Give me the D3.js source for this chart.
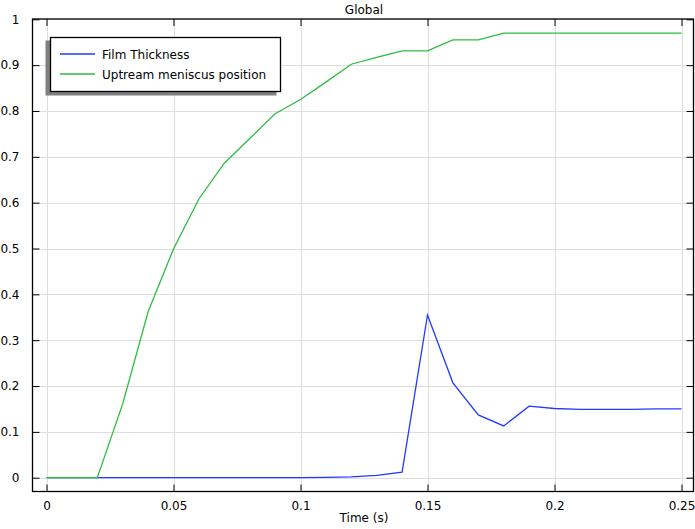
<!DOCTYPE html>
<html>
<head>
<meta charset="utf-8">
<script src="https://cdn.jsdelivr.net/npm/d3@7"></script>
<style>
	body { margin: 0; background: #fff; }
	text { font-family: "DejaVu Sans", sans-serif; font-size: 12px; fill: #000; }
</style>
</head>
<body>
<div id="chart"></div>
<script>
// time steps (s)
const times = [0, 0.01, 0.02, 0.03, 0.04, 0.05, 0.06, 0.07, 0.08, 0.09, 0.1, 0.11, 0.12,
	0.13, 0.14, 0.15, 0.16, 0.17, 0.18, 0.19, 0.2, 0.21, 0.22, 0.23, 0.24, 0.25];
const filmThickness = [0, 0, 0, 0, 0, 0, 0, 0, 0, 0, 0, 0.0005, 0.002,
	0.005, 0.012, 0.355, 0.207, 0.137, 0.113, 0.156, 0.151, 0.149, 0.149, 0.149, 0.150, 0.150];
const meniscusPos = [0, 0, 0, 0.161, 0.362, 0.499, 0.608, 0.686, 0.740, 0.794, 0.825, 0.863, 0.902,
	0.917, 0.931, 0.931, 0.955, 0.955, 0.970, 0.970, 0.970, 0.970, 0.970, 0.970, 0.970, 0.970];
const xTicks = [0, 0.05, 0.1, 0.15, 0.2, 0.25];
const yTicks = [0, 0.1, 0.2, 0.3, 0.4, 0.5, 0.6, 0.7, 0.8, 0.9, 1];
const seriesNames = ["Film Thickness", "Uptream meniscus position"];
const seriesColors = ["#1f3cff", "#2dbd3f"];

const width = 695, height = 529;
const plot = { left: 32.5, top: 19, right: 693.5, bottom: 491.5 };

const x = d3.scaleLinear().domain([0, 0.25]).range([46.5, 681.5]);
const y = d3.scaleLinear().domain([0, 1]).range([477.7, 19.3]);

const svg = d3.select("#chart").append("svg")
	.attr("width", width)
	.attr("height", height);

// grid
svg.append("g").selectAll("line").data(xTicks).join("line")
	.attr("x1", d => Math.round(x(d)) + 0.5).attr("x2", d => Math.round(x(d)) + 0.5)
	.attr("y1", plot.top).attr("y2", plot.bottom)
	.attr("stroke", "#dedede");
svg.append("g").selectAll("line").data(yTicks).join("line")
	.attr("x1", plot.left).attr("x2", plot.right)
	.attr("y1", d => Math.round(y(d)) + 0.5).attr("y2", d => Math.round(y(d)) + 0.5)
	.attr("stroke", "#dedede");

// lines
const series = [filmThickness, meniscusPos];
const line = d3.line().x((d, i) => x(times[i])).y(d => y(d));
svg.append("g").selectAll("path").data(series).join("path")
	.attr("d", d => line(d))
	.attr("fill", "none")
	.attr("stroke", (d, i) => seriesColors[i])
	.attr("stroke-width", 1.3);

// axes (ticks inward on all sides)
const fmt = d => d3.format("")(+d.toFixed(2));
svg.append("g").attr("transform", `translate(0,${plot.bottom})`)
	.call(d3.axisBottom(x).tickValues(xTicks).tickSizeInner(-7).tickSizeOuter(0).tickPadding(10).tickFormat(fmt))
	.call(g => g.select(".domain").remove());
svg.append("g").attr("transform", `translate(0,${plot.top})`)
	.call(d3.axisTop(x).tickValues(xTicks).tickSizeInner(-7).tickSizeOuter(0).tickFormat(""))
	.call(g => g.select(".domain").remove());
svg.append("g").attr("transform", `translate(${plot.left},0)`)
	.call(d3.axisLeft(y).tickValues(yTicks).tickSizeInner(-7).tickSizeOuter(0).tickPadding(13).tickFormat(fmt))
	.call(g => g.select(".domain").remove());
svg.append("g").attr("transform", `translate(${plot.right},0)`)
	.call(d3.axisRight(y).tickValues(yTicks).tickSizeInner(-7).tickSizeOuter(0).tickFormat(""))
	.call(g => g.select(".domain").remove());
svg.selectAll(".tick line").attr("stroke", "#000");
svg.selectAll(".tick text").style("font-family", "DejaVu Sans").style("font-size", "12px");

// frame
svg.append("rect")
	.attr("x", plot.left).attr("y", plot.top)
	.attr("width", plot.right - plot.left).attr("height", plot.bottom - plot.top)
	.attr("fill", "none").attr("stroke", "#000").attr("stroke-width", 1.3);

// titles
svg.append("text").attr("x", 364).attr("y", 13.5).attr("text-anchor", "middle").text("Global");
svg.append("text").attr("x", 364).attr("y", 521.5).attr("text-anchor", "middle").text("Time (s)");

// legend
const legend = svg.append("g");
legend.append("rect").attr("x", 45.5).attr("y", 40.5).attr("width", 231).attr("height", 55)
	.attr("fill", "#808080");
legend.append("rect").attr("x", 50.5).attr("y", 37.5).attr("width", 230).attr("height", 54)
	.attr("fill", "#fff").attr("stroke", "#000").attr("stroke-width", 1.3);
const items = legend.selectAll("g.item").data(seriesNames).join("g")
	.attr("class", "item")
	.attr("transform", (d, i) => `translate(0,${54 + i * 20})`);
items.append("line").attr("x1", 60).attr("x2", 95).attr("y1", 0).attr("y2", 0)
	.attr("stroke", (d, i) => seriesColors[i]).attr("stroke-width", 1.3);
items.append("text").attr("x", 102).attr("y", 4.5).text(d => d);
</script>
</body>
</html>
